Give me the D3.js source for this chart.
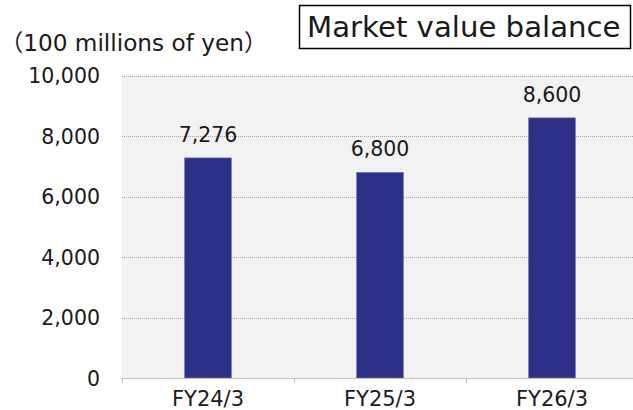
<!DOCTYPE html>
<html><head><meta charset="utf-8">
<script src="https://cdn.jsdelivr.net/npm/d3@7"></script>
<style>
html,body{margin:0;padding:0;background:#fff;}
text{font-family:"DejaVu Sans","Noto Sans CJK JP",sans-serif;fill:#1a1a1a;}
</style></head>
<body><svg id="c" width="633" height="410"></svg>
<script>
const categories = ["FY24/3","FY25/3","FY26/3"];
const values = [7276, 6800, 8600];
const yTicks = [0, 2000, 4000, 6000, 8000, 10000];
const unitLabel = "（100 millions of yen）";
const titleLabel = "Market value balance";

(function(){
const svg = d3.select("#c");
const pLeft = 122, pRight = 633, pTop = 75.5, pBottom = 378;
const x = d3.scaleBand().domain(categories).range([pLeft, 638]).paddingInner(0.727).paddingOuter(0.3635);
const y = d3.scaleLinear().domain([0, 10000]).range([pBottom, pTop]);
const fmt = d3.format(",");
const FF = '"DejaVu Sans","Noto Sans CJK JP",sans-serif';

svg.append("rect").attr("x", pLeft).attr("y", y(10000)).attr("width", pRight-pLeft).attr("height", pBottom - y(10000)).attr("fill", "#f2f2f2");

svg.append("g").selectAll("line").data(yTicks.filter(d=>d>0)).join("line")
  .attr("x1", pLeft).attr("x2", pRight).attr("y1", d=>Math.round(y(d))+0.5).attr("y2", d=>Math.round(y(d))+0.5)
  .attr("stroke", "#a6a6a6").attr("stroke-width", 1).attr("stroke-dasharray", "1,1");

svg.append("g").selectAll("rect").data(values).join("rect")
  .attr("x", (d,i)=>x(categories[i])).attr("width", x.bandwidth())
  .attr("y", d=>y(d)).attr("height", d=>pBottom - y(d))
  .attr("fill", "#2e3087").attr("stroke", "#7a7bb5").attr("stroke-width", 0.6);

svg.append("g").selectAll("text").data(values).join("text")
  .attr("x", (d,i)=>x(categories[i]) + x.bandwidth()/2).attr("y", d=>y(d)-16)
  .attr("text-anchor","middle").attr("font-size", 20.5).text(d=>fmt(d));

const yAxis = d3.axisLeft(y).tickValues(yTicks).tickFormat(fmt).tickSize(0).tickPadding(0);
const ya = svg.append("g").attr("transform", "translate(100,0)").call(yAxis);
ya.select(".domain").remove();
ya.selectAll("text").attr("font-size", 20.5).attr("font-family", FF).attr("fill", "#1a1a1a").attr("dy", "0.36em");

const xAxis = d3.axisBottom(x).tickSize(0).tickPadding(0);
const xa = svg.append("g").attr("transform", `translate(0,${pBottom})`).call(xAxis);
xa.select(".domain").remove();
xa.selectAll("text").attr("font-size", 21).attr("font-family", FF).attr("fill", "#1a1a1a").attr("dy", null).attr("y", 27.7);
svg.append("line").attr("x1", pLeft).attr("x2", pRight).attr("y1", pBottom+0.5).attr("y2", pBottom+0.5).attr("stroke", "#bfbfbf").attr("stroke-width", 1.2);
const bounds = [pLeft].concat(categories.map(c => x(c) + x.bandwidth() + (x.step()-x.bandwidth())/2));
svg.append("g").selectAll("line").data(bounds.filter(b=>b<pRight)).join("line")
  .attr("x1", d=>Math.round(d)+0.5).attr("x2", d=>Math.round(d)+0.5).attr("y1", pBottom).attr("y2", pBottom+5)
  .attr("stroke", "#bfbfbf").attr("stroke-width", 1);

svg.append("text").attr("x", 0).attr("y", 51).attr("font-size", 23.2).text(unitLabel);

svg.append("rect").attr("x", 299.5).attr("y", 5.5).attr("width", 331).attr("height", 43).attr("fill", "#fff").attr("stroke", "#000").attr("stroke-width", 1.5);
svg.append("text").attr("x", 307).attr("y", 36.7).attr("font-size", 29.2).text(titleLabel);
})();
</script></body></html>
